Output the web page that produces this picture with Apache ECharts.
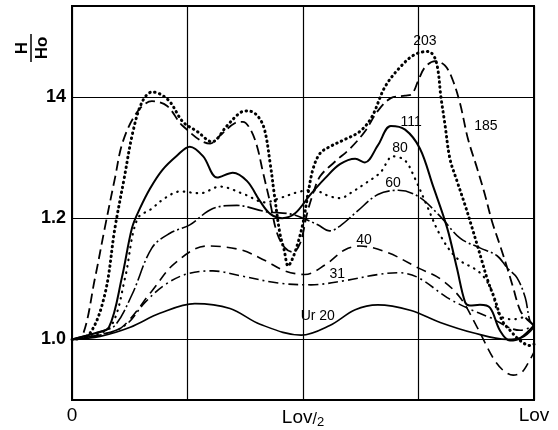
<!DOCTYPE html>
<html>
<head>
<meta charset="utf-8">
<script src="https://cdn.jsdelivr.net/npm/echarts@6/dist/echarts.min.js"></script>
<style>html,body{margin:0;padding:0;background:#fff}#c{width:558px;height:430px}</style>
</head>
<body>
<div id="c"></div>
<script>
// x in units of Lov (0..1), y = H/Ho
const s20x  = [0, 0.061, 0.126, 0.190, 0.266, 0.342, 0.407, 0.496, 0.558, 0.613, 0.662, 0.732, 0.797, 0.868, 0.942, 0.974, 1.0];
const s20y  = [1.0, 1.005, 1.020, 1.043, 1.059, 1.051, 1.025, 1.007, 1.023, 1.049, 1.057, 1.048, 1.028, 1.011, 1.0, 1.003, 1.02];

const s31x  = [0, 0.061, 0.115, 0.158, 0.201, 0.249, 0.305, 0.364, 0.446, 0.517, 0.591, 0.662, 0.706, 0.749, 0.812, 0.855, 0.905, 0.970, 1.0];
const s31y  = [1.0, 1.007, 1.023, 1.061, 1.090, 1.108, 1.113, 1.105, 1.093, 1.090, 1.097, 1.107, 1.110, 1.102, 1.069, 1.052, 1.036, 1.015, 1.023];

const s40x  = [0, 0.061, 0.108, 0.173, 0.223, 0.292, 0.364, 0.418, 0.461, 0.504, 0.548, 0.591, 0.623, 0.684, 0.749, 0.797, 0.840, 0.877, 0.911, 0.933, 0.955, 0.974, 0.991, 1.0];
const s40y  = [1.0, 1.008, 1.020, 1.080, 1.126, 1.154, 1.148, 1.130, 1.113, 1.107, 1.123, 1.148, 1.154, 1.143, 1.118, 1.100, 1.069, 1.020, 0.970, 0.949, 0.941, 0.946, 0.966, 0.979];

const s60x  = [0, 0.061, 0.093, 0.130, 0.173, 0.212, 0.255, 0.305, 0.357, 0.418, 0.472, 0.500, 0.532, 0.558, 0.580, 0.617, 0.662, 0.706, 0.749, 0.797, 0.840, 0.883, 0.920, 0.942, 0.963, 0.981, 0.991, 1.0];
const s60y  = [1.0, 1.013, 1.023, 1.074, 1.151, 1.175, 1.189, 1.216, 1.221, 1.211, 1.207, 1.200, 1.189, 1.179, 1.187, 1.211, 1.239, 1.246, 1.236, 1.203, 1.167, 1.151, 1.138, 1.118, 1.102, 1.069, 1.031, 1.023];

const s80x  = [0, 0.050, 0.087, 0.115, 0.141, 0.173, 0.201, 0.234, 0.277, 0.320, 0.374, 0.418, 0.450, 0.494, 0.522, 0.558, 0.580, 0.608, 0.634, 0.667, 0.695, 0.721, 0.742, 0.768, 0.797, 0.833, 0.883, 0.909, 0.920, 0.933, 0.955, 0.976, 1.0];
const s80y  = [1.0, 1.007, 1.025, 1.102, 1.198, 1.216, 1.233, 1.244, 1.241, 1.252, 1.239, 1.226, 1.233, 1.244, 1.246, 1.236, 1.233, 1.244, 1.257, 1.275, 1.302, 1.295, 1.266, 1.221, 1.172, 1.134, 1.110, 1.080, 1.048, 1.036, 1.033, 1.036, 1.023];

const s111x = [0, 0.050, 0.080, 0.108, 0.130, 0.147, 0.169, 0.195, 0.227, 0.255, 0.284, 0.314, 0.348, 0.379, 0.407, 0.429, 0.455, 0.483, 0.515, 0.548, 0.580, 0.613, 0.634, 0.662, 0.690, 0.721, 0.753, 0.781, 0.812, 0.833, 0.851, 0.861, 0.883, 0.905, 0.926, 0.948, 0.970, 1.0];
const s111y = [1.0, 1.010, 1.020, 1.102, 1.184, 1.216, 1.249, 1.279, 1.303, 1.318, 1.302, 1.267, 1.275, 1.261, 1.228, 1.207, 1.200, 1.208, 1.238, 1.266, 1.289, 1.298, 1.292, 1.320, 1.352, 1.346, 1.315, 1.254, 1.184, 1.118, 1.061, 1.056, 1.057, 1.052, 1.015, 0.998, 1.002, 1.023];

const s185x = [0, 0.022, 0.050, 0.071, 0.093, 0.110, 0.141, 0.173, 0.206, 0.240, 0.299, 0.320, 0.353, 0.370, 0.385, 0.400, 0.413, 0.429, 0.444, 0.461, 0.478, 0.494, 0.509, 0.522, 0.537, 0.569, 0.602, 0.634, 0.662, 0.690, 0.721, 0.736, 0.749, 0.764, 0.786, 0.807, 0.823, 0.840, 0.857, 0.877, 0.894, 0.909, 0.926, 0.942, 0.955, 0.970, 0.985, 1.0];
const s185y = [1.0, 1.005, 1.102, 1.184, 1.266, 1.326, 1.375, 1.393, 1.385, 1.352, 1.323, 1.336, 1.357, 1.359, 1.348, 1.320, 1.277, 1.225, 1.175, 1.151, 1.144, 1.159, 1.208, 1.241, 1.269, 1.293, 1.315, 1.343, 1.377, 1.398, 1.402, 1.405, 1.426, 1.449, 1.459, 1.452, 1.430, 1.389, 1.331, 1.282, 1.238, 1.195, 1.156, 1.118, 1.085, 1.048, 1.033, 1.023];

const s203x = [0, 0.037, 0.071, 0.093, 0.113, 0.132, 0.152, 0.173, 0.190, 0.212, 0.240, 0.271, 0.303, 0.335, 0.364, 0.381, 0.400, 0.416, 0.429, 0.439, 0.450, 0.459, 0.468, 0.476, 0.487, 0.500, 0.511, 0.522, 0.537, 0.558, 0.591, 0.623, 0.649, 0.677, 0.710, 0.742, 0.771, 0.788, 0.799, 0.807, 0.818, 0.833, 0.851, 0.866, 0.877, 0.887, 0.900, 0.916, 0.931, 0.948, 0.970, 0.991, 1.0];
const s203y = [1.0, 1.008, 1.074, 1.184, 1.266, 1.343, 1.392, 1.408, 1.405, 1.392, 1.359, 1.343, 1.326, 1.352, 1.374, 1.377, 1.370, 1.348, 1.290, 1.233, 1.175, 1.148, 1.121, 1.131, 1.154, 1.192, 1.241, 1.282, 1.307, 1.318, 1.330, 1.343, 1.367, 1.416, 1.449, 1.470, 1.475, 1.459, 1.397, 1.356, 1.298, 1.262, 1.221, 1.184, 1.156, 1.130, 1.097, 1.064, 1.031, 1.015, 0.998, 0.990, 0.992];

const curveNames  = ['Ur 20', '31', '40', '60', '80', '111', '185', '203'];
const labelX      = [0.532, 0.574, 0.632, 0.695, 0.710, 0.734, 0.896, 0.764];
const labelY      = [1.039, 1.107, 1.164, 1.257, 1.315, 1.359, 1.352, 1.492];

const yGridValues = [1.0, 1.2, 1.4];
const yTickText   = {'1.0': '1.0', '1.2': '1.2', '1.4': '14'};
const xTickText   = {'0': '0', '0.5': '{a|Lov}{b|/}{c|2}', '1': 'Lov'};

function pairs(xs, ys) { return xs.map((x, i) => [x, ys[i]]); }

const curves = [
  [s20x, s20y, {type: 'solid', width: 1.6}],
  [s31x, s31y, {type: [10, 4, 2, 4], width: 1.6}],
  [s40x, s40y, {type: [10, 6], width: 1.6}],
  [s60x, s60y, {type: [16, 3, 2, 3], width: 1.6}],
  [s80x, s80y, {type: [0.5, 6], width: 2.2, cap: 'round'}],
  [s111x, s111y, {type: 'solid', width: 2}],
  [s185x, s185y, {type: [10, 5], width: 1.8}],
  [s203x, s203y, {type: [0.5, 4.5], width: 3, cap: 'round'}]
];

const FONT = 'Liberation Sans';
const series = curves.map((c, i) => ({
  type: 'line',
  name: curveNames[i],
  data: pairs(c[0], c[1]),
  smooth: 0.35,
  showSymbol: false,
  symbol: 'none',
  lineStyle: Object.assign({color: '#000'}, c[2]),
  z: 3,
  markPoint: {
    symbol: 'circle', symbolSize: 0, silent: true,
    label: {show: true, position: 'inside', color: '#000', fontFamily: FONT, fontSize: 14,
            formatter: () => curveNames[i], backgroundColor: i === 0 ? 'rgba(255,255,255,0)' : 'transparent'},
    data: [{coord: [labelX[i], labelY[i]]}]
  }
}));

series.push({
  type: 'line', data: [], silent: true, z: 1,
  markLine: {
    silent: true, symbol: ['none', 'none'], animation: false,
    label: {show: false},
    lineStyle: {color: '#000', width: 1.2, type: 'solid'},
    data: yGridValues.map(v => ({yAxis: v}))
  }
});

const chart = echarts.init(document.getElementById('c'), null, {renderer: 'canvas'});
chart.setOption({
  animation: false,
  backgroundColor: '#fff',
  grid: {left: 72, right: 24, top: 6, bottom: 30, show: true, borderColor: '#000', borderWidth: 2, backgroundColor: 'transparent'},
  xAxis: {
    type: 'value', min: 0, max: 1, interval: 0.25,
    axisLine: {show: true, lineStyle: {color: '#000', width: 2}},
    axisTick: {show: false},
    splitLine: {show: true, lineStyle: {color: '#000', width: 1.2}},
    axisLabel: {
      margin: 6, color: '#000', fontFamily: FONT, fontSize: 19,
      formatter: v => { const k = String(Math.round(v * 100) / 100); return xTickText[k] || ''; },
      rich: {
        a: {fontFamily: FONT, fontSize: 19, color: '#000'},
        b: {fontFamily: FONT, fontSize: 16, color: '#000', padding: [0, 0, -4, 0]},
        c: {fontFamily: FONT, fontSize: 13, color: '#000', padding: [10, 0, 0, 0]}
      }
    }
  },
  yAxis: {
    type: 'value', min: 0.9, max: 1.55, interval: 0.1,
    axisLine: {show: true, lineStyle: {color: '#000', width: 2}},
    axisTick: {show: false},
    splitLine: {show: false},
    axisLabel: {
      margin: 6, color: '#000', fontFamily: FONT, fontSize: 18, fontWeight: 'bold',
      formatter: v => { const k = (Math.round(v * 10) / 10).toFixed(1); return yTickText[k] || ''; }
    }
  },
  graphic: [{
    type: 'group', x: 31, y: 48, rotation: Math.PI / 2,
    children: [
      {type: 'text', x: 0, y: -9, style: {text: 'H', fill: '#000', font: 'bold 17px "Liberation Sans"', align: 'center', verticalAlign: 'middle'}},
      {type: 'line', shape: {x1: -14, y1: 0, x2: 14, y2: 0}, style: {stroke: '#000', lineWidth: 1.5}},
      {type: 'text', x: 0, y: 11, style: {text: 'Ho', fill: '#000', font: 'bold 17px "Liberation Sans"', align: 'center', verticalAlign: 'middle'}}
    ]
  }],
  series: series
});
</script>
</body>
</html>
